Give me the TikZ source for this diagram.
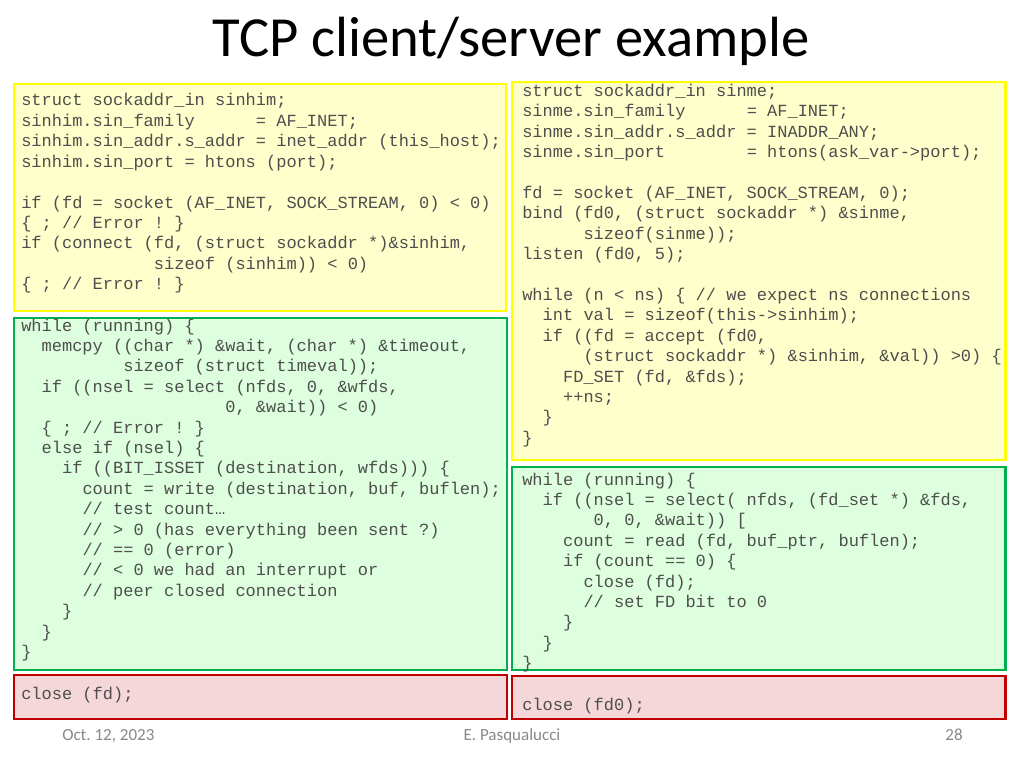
\documentclass[tikz,border=0pt]{standalone}
\usepackage{fontspec}
\setmainfont{Carlito}
\setmonofont{Liberation Mono}
\usepackage{tikz}
\usetikzlibrary{calc}
\definecolor{edgeyellow}{RGB}{255,255,0}
\definecolor{fillyellow}{RGB}{255,255,204}
\definecolor{edgegreen}{RGB}{0,176,80}
\definecolor{fillgreen}{RGB}{221,255,221}
\definecolor{edgered}{RGB}{192,0,0}
\definecolor{fillred}{RGB}{245,215,217}
\definecolor{codegray}{RGB}{78,78,78}
\definecolor{footgray}{RGB}{137,137,137}
\newcommand{\codefont}{\ttfamily\fontsize{12}{14}\selectfont}
\newcommand{\codepad}[1]{\hspace*{#1\fontdimen2\font}}
\tikzstyle{yellowbox}=[draw=edgeyellow,fill=fillyellow,line width=2.1bp]
\tikzstyle{greenbox}=[draw=edgegreen,fill=fillgreen,line width=2.1bp]
\tikzstyle{redbox}=[draw=edgered,fill=fillred,line width=2.1bp]
\tikzstyle{codeline}=[anchor=base west,inner sep=0pt,text=codegray,font=\codefont]
\tikzstyle{footer}=[anchor=base,inner sep=0pt,text=footgray,font=\fontsize{12}{14}\selectfont\frenchspacing]
\begin{document}
\begin{tikzpicture}[x=0.703125bp,y=-0.703125bp]
    \useasboundingbox[fill=white] (0,0) rectangle (1024,768);

    \node[anchor=base,inner sep=0pt,font=\fontsize{40}{48}\selectfont] (title) at (511,57) {TCP client/server example};

    % boxes
    \foreach \from/\to/\kind in {{(14,84)/(506,311)/yellowbox}, {(512,82)/(1005,460)/yellowbox},
        {(14,318)/(507,670)/greenbox}, {(512,467)/(1005,670)/greenbox},
        {(14,675)/(507,719)/redbox}, {(512,676)/(1005,719)/redbox}}
        \path[\kind] \from rectangle \to;

    % client setup
    \foreach \txt [count=\i from 0] in {{struct sockaddr\_in sinhim;},
        {sinhim.sin\_family\codepad{6}= AF\_INET;},
        {sinhim.sin\_addr.s\_addr = inet\_addr (this\_host);},
        {sinhim.sin\_port = htons (port);},
        {},
        {if (fd = socket (AF\_INET, SOCK\_STREAM, 0) < 0)},
        {\{ ; // Error ! \}},
        {if (connect (fd, (struct sockaddr *)\&sinhim,},
        {\codepad{13}sizeof (sinhim)) < 0)},
        {\{ ; // Error ! \}}}
        \node[codeline] (cli-\i) at (21,106+20.4*\i) {\txt};

    % server setup
    \foreach \txt [count=\i from 0] in {{struct sockaddr\_in sinme;},
        {sinme.sin\_family\codepad{6}= AF\_INET;},
        {sinme.sin\_addr.s\_addr = INADDR\_ANY;},
        {sinme.sin\_port\codepad{8}= htons(ask\_var->port);},
        {},
        {fd = socket (AF\_INET, SOCK\_STREAM, 0);},
        {bind (fd0, (struct sockaddr *) \&sinme,},
        {\codepad{6}sizeof(sinme));},
        {listen (fd0, 5);},
        {},
        {while (n < ns) \{ // we expect ns connections},
        {\codepad{2}int val = sizeof(this->sinhim);},
        {\codepad{2}if ((fd = accept (fd0,},
        {\codepad{6}(struct sockaddr *) \&sinhim, \&val)) >0) \{},
        {\codepad{4}FD\_SET (fd, \&fds);},
        {\codepad{4}++ns;},
        {\codepad{2}\}},
        {\}}}
        \node[codeline] (srv-\i) at (522,96.5+20.4*\i) {\txt};

    % client loop
    \foreach \txt [count=\i from 0] in {{while (running) \{},
        {\codepad{2}memcpy ((char *) \&wait, (char *) \&timeout,},
        {\codepad{10}sizeof (struct timeval));},
        {\codepad{2}if ((nsel = select (nfds, 0, \&wfds,},
        {\codepad{20}0, \&wait)) < 0)},
        {\codepad{2}\{ ; // Error ! \}},
        {\codepad{2}else if (nsel) \{},
        {\codepad{4}if ((BIT\_ISSET (destination, wfds))) \{},
        {\codepad{6}count = write (destination, buf, buflen);},
        {\codepad{6}// test count…},
        {\codepad{6}// > 0 (has everything been sent ?)},
        {\codepad{6}// == 0 (error)},
        {\codepad{6}// < 0 we had an interrupt or},
        {\codepad{6}// peer closed connection},
        {\codepad{4}\}},
        {\codepad{2}\}},
        {\}}}
        \node[codeline] (cloop-\i) at (21,331+20.4*\i) {\txt};

    % server loop
    \foreach \txt [count=\i from 0] in {{while (running) \{},
        {\codepad{2}if ((nsel = select( nfds, (fd\_set *) \&fds,},
        {\codepad{7}0, 0, \&wait)) [},
        {\codepad{4}count = read (fd, buf\_ptr, buflen);},
        {\codepad{4}if (count == 0) \{},
        {\codepad{6}close (fd);},
        {\codepad{6}// set FD bit to 0},
        {\codepad{4}\}},
        {\codepad{2}\}},
        {\}}}
        \node[codeline] (sloop-\i) at (522,485+20.4*\i) {\txt};

    \node[codeline] (cclose) at (21,699) {close (fd);};
    \node[codeline] (sclose) at (522,710) {close (fd0);};

    % footer
    \node[footer,anchor=base west] (date) at (62,740) {Oct. 12, 2023};
    \node[footer] (author) at (512,740) {E. Pasqualucci};
    \node[footer] (page) at (954,740) {28};
\end{tikzpicture}
\end{document}
